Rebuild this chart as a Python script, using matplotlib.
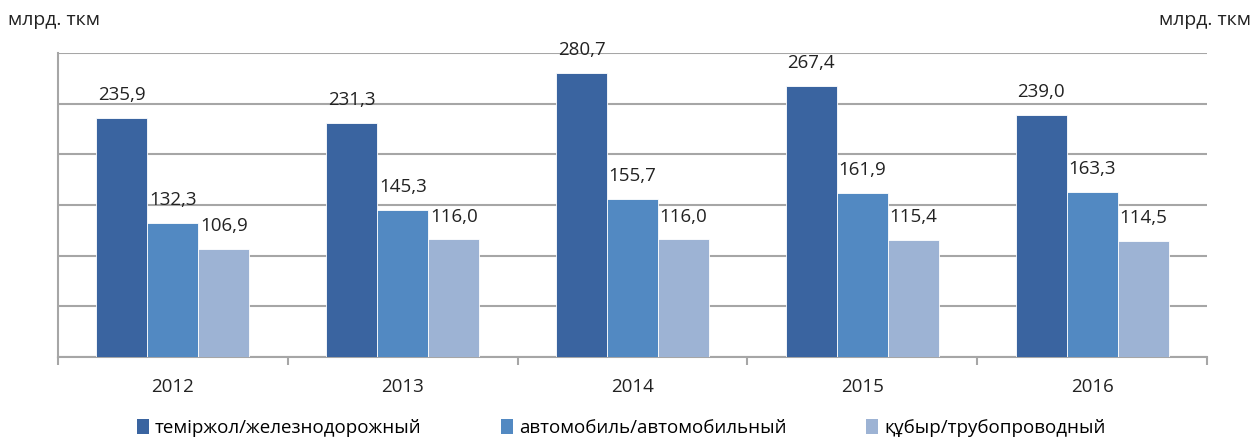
import matplotlib
matplotlib.use("Agg")
import matplotlib.pyplot as plt
import numpy as np
from matplotlib.patches import Patch

plt.rcParams['font.family'] = ['Open Sans', 'DejaVu Sans']

years = ["2012", "2013", "2014", "2015", "2016"]
rail = [235.9, 231.3, 280.7, 267.4, 239.0]
road = [132.3, 145.3, 155.7, 161.9, 163.3]
pipe = [106.9, 116.0, 116.0, 115.4, 114.5]
series_names = ["теміржол/железнодорожный", "автомобиль/автомобильный", "құбыр/трубопроводный"]
colors = ["#3A64A0", "#5289C2", "#9DB3D4"]
unit = "млрд. ткм"

fig = plt.figure(figsize=(12.58, 4.40), dpi=100)
ax = fig.add_axes([0.0461, 0.1886, 0.9134, 0.6909])

x = np.arange(len(years))
w = 0.222
grid_c = "#A6A6A6"
txt_c = "#222222"
for i, (vals, c) in enumerate(zip([rail, road, pipe], colors)):
    pos = x + (i - 1) * w
    ax.bar(pos, vals, width=w, color=c, edgecolor="white", linewidth=0.6, zorder=3)
    for p, v in zip(pos, vals):
        ax.annotate(f"{v:.1f}".replace(".", ","), (p, v), xytext=(0, 10),
                    textcoords="offset points", ha="center", va="bottom",
                    fontsize=13.5, color=txt_c, zorder=4)

ax.set_xlim(-0.5, len(years) - 0.5)
ax.set_ylim(0, 300)
ax.set_yticks(np.arange(0, 301, 50))
ax.yaxis.grid(True, color=grid_c, linewidth=1.5, zorder=0)
ax.tick_params(axis='y', length=0, labelleft=False)
ax.set_xticks(x)
ax.set_xticklabels(years, fontsize=13.5, color=txt_c)
ax.tick_params(axis='x', which='major', length=0, pad=15)
ax.set_xticks(np.arange(-0.5, len(years), 1), minor=True)
ax.tick_params(axis='x', which='minor', length=6, width=1.5, color=grid_c)
for s in ["top", "right"]:
    ax.spines[s].set_visible(False)
for s in ["left", "bottom"]:
    ax.spines[s].set_color(grid_c)
    ax.spines[s].set_linewidth(1.5)

fig.text(8 / 1258, 1 - 20 / 440, unit, fontsize=14, va="center", ha="left", color=txt_c)
fig.text(1251 / 1258, 1 - 20 / 440, unit, fontsize=14, va="center", ha="right", color=txt_c)

handles = [Patch(facecolor=c, edgecolor="none") for c in colors]
fig.legend(handles, series_names, loc="center", bbox_to_anchor=(0.494, 1 - 428 / 440),
           ncol=3, frameon=False, fontsize=13.5, handlelength=0.6, handleheight=0.9,
           handletextpad=0.35, columnspacing=4.25)

fig.savefig("out.png", dpi=100)
